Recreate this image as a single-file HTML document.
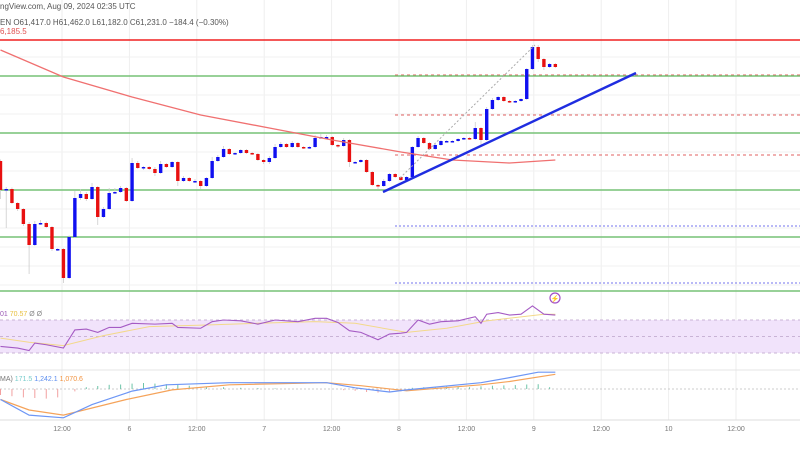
<!DOCTYPE html>
<html><head><meta charset="utf-8"><style>
html,body{margin:0;padding:0;background:#fff;width:800px;height:450px;overflow:hidden;font-family:"Liberation Sans",sans-serif}
svg{display:block}
</style></head><body>
<svg id="chart" width="800" height="450" viewBox="0 0 800 450" xmlns="http://www.w3.org/2000/svg">
<g id="grid"></g>
<g id="levels"></g>
<g id="candles"></g>
<g id="ind"></g>
<text x="0" y="9" font-size="8" fill="#555">ngView.com, Aug 09, 2024 02:35 UTC</text>
<text x="0" y="25" font-size="8" fill="#555">EN  O61,417.0  H61,462.0  L61,182.0  C61,231.0  −184.4 (−0.30%)</text>
<text x="0" y="34" font-size="8" fill="#e05050">6,185.5</text>
<text x="0" y="316" font-size="7" fill="#9b59b6">01 <tspan fill="#e8c040">70.57</tspan> <tspan fill="#888">Ø Ø</tspan></text>
<text x="0" y="381" font-size="7" fill="#777">MA) <tspan fill="#7cc">171.5</tspan> <tspan fill="#5b8def">1,242.1</tspan> <tspan fill="#f29340">1,070.6</tspan></text>
<g><circle cx="555" cy="298" r="5" fill="none" stroke="#a24fc7" stroke-width="1.2"/><text x="555" y="301" font-size="7" fill="#a24fc7" text-anchor="middle">⚡</text></g>
</svg>
<script>
const closes=[56400,56440,55880,55640,55040,54200,55040,55080,54920,54040,
54040,52880,54520,56080,56240,56040,56520,55320,55640,56280,
56320,56480,55960,57480,57280,57320,57240,57080,57440,57320,
57520,56760,56880,56760,56760,56560,56880,57560,57720,58040,
57840,57880,58000,57880,57840,57600,57520,57680,58120,58240,
58120,58280,58120,58080,58120,58480,58520,58520,58200,58160,
58400,57520,57520,57600,57120,56600,56560,56760,57040,56920,
56800,56920,58120,58480,58280,58040,58200,58360,58360,58360,
58440,58480,58440,58880,58400,59640,60000,60120,59960,59920,
59960,60040,61240,62120,61640,61320,61440,61320];
const firstOpen=57560;
const wickUp=[60,80,60,40,40,80,120,120,60,40,40,40,60,280,200,80,160,40,80,200,160,80,40,200,80,40,40,80,120,40,40,40,80,40,80,40,40,160,80,120,40,40,40,40,40,40,40,80,120,80,40,80,40,40,40,120,120,80,40,40,80,40,40,40,40,40,40,80,40,40,40,40,40,80,40,40,40,40,40,40,40,40,40,240,40,80,80,40,40,40,40,40,40,80,80,40,40,40];
const wickDown=[360,1520,40,80,80,1160,40,40,40,80,80,200,40,40,80,80,40,320,40,40,40,40,40,40,40,80,40,120,40,40,40,200,40,40,80,120,40,40,40,40,40,40,40,40,40,40,80,80,40,40,40,40,40,40,40,40,40,40,40,80,40,200,40,40,40,40,120,40,40,40,40,40,40,40,40,40,40,40,40,40,40,40,40,40,280,40,40,40,40,40,40,40,40,40,120,120,40,40];
const levelGreen=[60960,58680,56400,54520,52360];
const levelRed=[62400];
const dashRed=[62400,61000,59400,57800];
const dashBlue=[54960,52680];
const maIdx=[0,11,23,35,47,58,70,79,89,97];
const maVals=[62000,60920,60120,59400,58880,58400,57920,57600,57480,57600];
const timeLabels=["12:00","6","12:00","7","12:00","8","12:00","9","12:00","10","12:00"];
const rsiIdx=[0,3,5,6,8,11,13,15,17,19,21,23,27,30,31,35,37,39,42,45,48,52,55,57,59,61,63,66,68,70,71,73,75,77,80,83,84,85,87,89,91,93,95,97];
const rsiVals=[38,36,33,42,40,36,58,59,55,61,61,66,65,66,61,60,68,70,69,65,70,68,72,72,67,57,55,46,53,54,55,70,65,68,69,74,66,77,79,76,77,87,77,76];
const rsiMaIdx=[0,5,11,18,26,36,45,55,62,71,78,85,95,97];
const rsiMaVals=[48,43,39,51,62,64,66,68,66,55,60,69,77,77];
const macdIdx=[0,5,11,16,23,29,40,57,62,68,71,84,89,94,97];
const macdVals=[-350,-870,-960,-520,-70,140,210,210,40,-100,-30,210,380,560,560];
const sigIdx=[0,5,11,22,30,40,57,63,71,84,89,97];
const sigVals=[-350,-700,-870,-350,-30,140,210,110,-60,140,250,490];
const histIdx=[0,2,4,6,8,10,13,15,17,19,21,23,25,27,29,31,33,36,39,42,45,48,52,56,60,62,64,66,68,70,72,74,76,78,80,82,84,86,88,90,92,94,96];
const histVals=[-200,-240,-280,-300,-320,-280,-80,60,100,140,150,180,200,180,160,140,110,80,60,40,30,20,0,-10,-40,-60,-100,-120,-110,-80,40,60,60,80,70,60,90,110,120,130,150,160,60];

const NS="http://www.w3.org/2000/svg";
const candleX=i=>0.5+i*5.72;
const priceY=p=>(64000-p)/40;
const rsiY=v=>320+(70-v)*(33/40);
const macdY=v=>389-v*0.03;
function mk(tag,attrs,parent){const e=document.createElementNS(NS,tag);for(const k in attrs)e.setAttribute(k,attrs[k]);parent.appendChild(e);return e;}
const grid=document.getElementById('grid'),levels=document.getElementById('levels'),cg=document.getElementById('candles'),ind=document.getElementById('ind');
for(let i=0;i<timeLabels.length;i++){
  const x=62+i*67.4;
  const l=mk('line',{x1:x,y1:0,x2:x,y2:420,stroke:'#eee','stroke-width':1},grid);
  
  
  const t=mk('text',{x:x,y:431,'font-size':7,fill:'#777','text-anchor':'middle'},grid);
  t.textContent=timeLabels[i];
  
  
}
for(let y=57;y<290;y+=19){
  const l=mk('line',{x1:0,y1:y,x2:800,y2:y,stroke:'#f1f1f1','stroke-width':1},grid);
  
  
}
const sep1=mk('line',{x1:0,y1:370,x2:800,y2:370,stroke:'#e4e4e4'},grid);


const sep2=mk('line',{x1:0,y1:420,x2:800,y2:420,stroke:'#ddd'},grid);


const band=mk('rect',{x:0,y:rsiY(70),width:800,height:rsiY(30)-rsiY(70),fill:'#f1e3fb'},ind);


[70,50,30].forEach(v=>{const l=mk('line',{x1:0,y1:rsiY(v),x2:800,y2:rsiY(v),stroke:'#c9b3d6','stroke-dasharray':'3,3'},ind);

});
dashRed.forEach(p=>{const l=mk('line',{x1:395,y1:priceY(p),x2:800,y2:priceY(p),stroke:'#e06060','stroke-dasharray':'3,3','stroke-width':1},levels);

});
dashBlue.forEach(p=>{const l=mk('line',{x1:395,y1:priceY(p),x2:800,y2:priceY(p),stroke:'#8f8ff0','stroke-dasharray':'2,2','stroke-width':1.2},levels);

});
levelGreen.forEach(p=>{const l=mk('line',{x1:0,y1:priceY(p),x2:800,y2:priceY(p),stroke:'#77c277','stroke-width':1.6},levels);

});
levelRed.forEach(p=>{const l=mk('line',{x1:0,y1:priceY(p),x2:800,y2:priceY(p),stroke:'#f02020','stroke-width':1.4},levels);

});
let d='';maIdx.forEach((ix,k)=>{d+=(k?'L':'M')+candleX(ix)+','+priceY(maVals[k]);});
const ma=mk('path',{d:d,fill:'none',stroke:'#f07070','stroke-width':1.3},ind);


const dp=mk('line',{x1:400,y1:178,x2:535,y2:45,stroke:'#aaa','stroke-dasharray':'2,2'},ind);


let prev=firstOpen;
closes.forEach((c,i)=>{
  const o=prev;prev=c;
  const up=c>=o;const col=up?'#1010f0':'#e81010';
  const hi=Math.max(o,c)+wickUp[i],lo=Math.min(o,c)-wickDown[i];
  const x=candleX(i);
  const w=mk('line',{x1:x,y1:priceY(hi),x2:x,y2:priceY(lo),stroke:'#ccc','stroke-width':0.8},cg);
  
  
  const yt=priceY(Math.max(o,c)),yb=priceY(Math.min(o,c));
  const b=mk('rect',{x:x-1.7,y:yt,width:3.4,height:Math.max(1.5,yb-yt),fill:col},cg);
  
  
});
const tl=mk('line',{x1:383,y1:192,x2:636,y2:73,stroke:'#1f2de0','stroke-width':2.4},ind);


function series(idx,vals,fy,stroke,name,sw){let dd='';idx.forEach((ix,k)=>{dd+=(k?'L':'M')+candleX(ix)+','+fy(vals[k]);});
const p=mk('path',{d:dd,fill:'none',stroke:stroke,'stroke-width':sw},ind);

}
series(rsiMaIdx,rsiMaVals,rsiY,'#f3d98a','rsi-ma-line',1);
series(rsiIdx,rsiVals,rsiY,'#a55bc4','rsi-line',1.1);
const zl=mk('line',{x1:0,y1:macdY(0),x2:800,y2:macdY(0),stroke:'#ccc','stroke-dasharray':'2,2'},ind);


histIdx.forEach((ix,k)=>{const v=histVals[k];const x=candleX(ix);
  const h=mk('line',{x1:x,y1:macdY(0),x2:x,y2:macdY(v),stroke:v>=0?'#6cc4a8':'#f2a0a0','stroke-width':1},ind);
  
  });
series(sigIdx,sigVals,macdY,'#f5a35a','macd-signal-line',1.2);
series(macdIdx,macdVals,macdY,'#6d96f5','macd-line',1.2);
</script>
</body></html>
